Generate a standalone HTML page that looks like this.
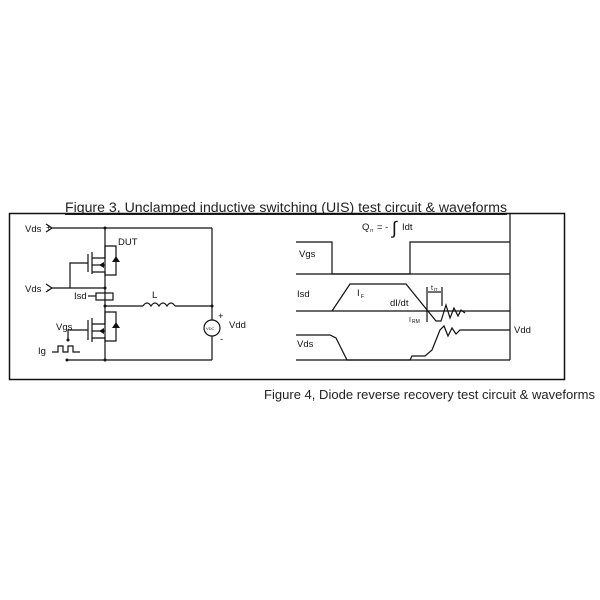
<!DOCTYPE html>
<html><head><style>body{margin:0;background:#fff}svg{display:block}</style></head><body>
<svg width="600" height="600" viewBox="0 0 600 600" xmlns="http://www.w3.org/2000/svg" font-family="Liberation Sans, sans-serif">
<text x="65" y="212" font-size="13.5" fill="#222" textLength="442" lengthAdjust="spacingAndGlyphs">Figure 3, Unclamped inductive switching (UIS) test circuit &amp; waveforms</text>
<line x1="65" y1="214.5" x2="507" y2="214.5" stroke="#222" stroke-width="1"/>
<rect x="9.5" y="213.5" width="555" height="166" fill="none" stroke="#111" stroke-width="1.5"/>
<text x="264" y="399" font-size="12.5" fill="#222" textLength="331" lengthAdjust="spacingAndGlyphs">Figure 4, Diode reverse recovery test circuit &amp; waveforms</text>
<g stroke="#111" stroke-width="1.2" fill="none">
<polyline points="46,224 52,228 46,232"/><line x1="52" y1="228" x2="212" y2="228"/>
<polyline points="46,284 52,288 46,292"/><line x1="52" y1="288" x2="105" y2="288"/>
<line x1="105" y1="228" x2="105" y2="360"/>
<line x1="212" y1="228" x2="212" y2="320"/><line x1="212" y1="336" x2="212" y2="360"/>
<line x1="67" y1="360" x2="212" y2="360"/>
<line x1="105" y1="306" x2="143" y2="306"/><line x1="175" y1="306" x2="212" y2="306"/>
<path d="M143,306 q4,-6 8,0 q4,-6 8,0 q4,-6 8,0 q4,-6 8,0"/>
<circle cx="212" cy="328" r="8"/>
<line x1="88" y1="254" x2="88" y2="272"/>
<line x1="92" y1="252" x2="92" y2="274"/>
<polyline points="92,258 105,258 105,246 116,246 116,275 105,275 105,272 92,272"/>
<line x1="92" y1="265" x2="105" y2="265"/>
<polyline points="88,263 70,263 70,288"/>
<line x1="88" y1="320" x2="88" y2="340"/>
<line x1="92" y1="318" x2="92" y2="342"/>
<polyline points="92,324 105,324 105,312 116,312 116,341 105,341 105,338 92,338"/>
<line x1="92" y1="331" x2="105" y2="331"/>
<polyline points="88,330 68,330 68,340"/>
<rect x="96" y="293" width="17" height="7"/>
<line x1="88" y1="296" x2="96" y2="296"/>
<polyline points="52,352 58,352 58,346 63,346 63,352 68,352 68,346 73,346 73,352 80,352"/>
<line x1="510" y1="213" x2="510" y2="360"/>
<polyline points="296,242 332,242 332,274 410,274 410,242 510,242"/>
<line x1="296" y1="274" x2="510" y2="274"/>
<line x1="296" y1="311" x2="510" y2="311"/>
<polyline points="332,311 350,284 406,284 436,321 441,321 446,305 450,318 454,308 458,316 461,310 465,313"/>
<polyline points="296,335 330,335 336,338 347,360 410,360 412,356 425,356 432,350 440,330 444,326 448,336 452,328 456,334 460,330 510,330"/>
<line x1="296" y1="360" x2="510" y2="360"/>
<line x1="427" y1="287" x2="427" y2="322"/><line x1="442" y1="287" x2="442" y2="306"/>
<line x1="428" y1="292" x2="441" y2="292"/>
</g>
<g fill="#111">
<circle cx="105" cy="228" r="1.5"/><circle cx="105" cy="288" r="1.5"/><circle cx="105" cy="306" r="1.5"/><circle cx="212" cy="306" r="1.5"/><circle cx="105" cy="360" r="1.5"/><circle cx="67" cy="360" r="1.5"/><circle cx="68" cy="340" r="1.5"/>
<polygon points="112,262 120,262 116,256"/><polygon points="112,328 120,328 116,322"/>
<polygon points="99,265 104,262 104,268"/><polygon points="99,331 104,328 104,334"/>
</g>
<g font-size="9.5" fill="#111">
<text x="25" y="232">Vds</text><text x="46" y="230" font-size="8">+</text>
<text x="25" y="292">Vds</text><text x="47" y="292" font-size="8">-</text>
<text x="118" y="245">DUT</text><text x="74" y="299">Isd</text>
<text x="152" y="298">L</text><text x="218" y="319">+</text><text x="220" y="342">-</text>
<text x="229" y="328">Vdd</text><text x="206" y="330" font-size="4">VDC</text>
<text x="56" y="330">Vgs</text><text x="38" y="354">Ig</text>
<text x="299" y="257">Vgs</text><text x="297" y="297">Isd</text><text x="297" y="347">Vds</text>
<text x="514" y="333">Vdd</text><text x="357" y="296">I</text><text x="361" y="298" font-size="5">F</text>
<text x="390" y="306">dI/dt</text><text x="409" y="322" font-size="7">I</text><text x="412" y="323" font-size="5">RM</text>
<text x="431" y="290" font-size="7">t</text><text x="434" y="291" font-size="5">rr</text>
<text x="362" y="230">Q</text><text x="370" y="232" font-size="5">rr</text><text x="377" y="230">= -</text>
<text x="392" y="234" font-size="18">∫</text><text x="402" y="230">Idt</text>
</g>
</svg>
</body></html>
